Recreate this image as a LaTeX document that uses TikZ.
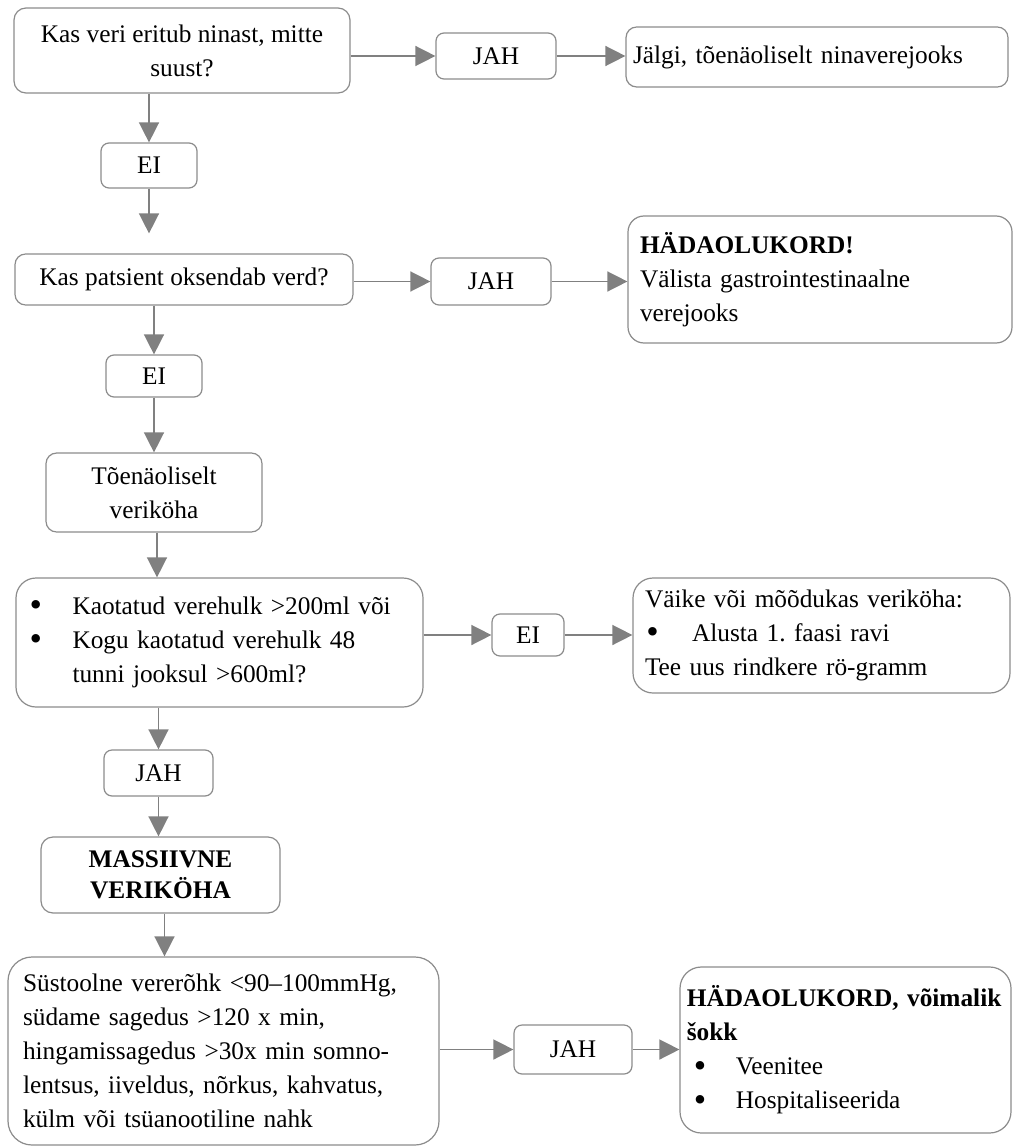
\documentclass[tikz,border=0pt]{standalone}
\usepackage{graphicx}
\usepackage{fontspec}
\setmainfont{Liberation Serif}
\usetikzlibrary{arrows.meta,calc}
\definecolor{edgegray}{HTML}{8C8C8C}
\definecolor{arrowgray}{HTML}{808080}
\newcommand\mybul{\raisebox{-0.2ex}{\scalebox{1.4}{\textbullet}}}
\tikzset{
  basebox/.style={draw=edgegray, line width=0.9pt, fill=white, inner sep=0pt,
    font=\fontsize{19}{25.5}\selectfont\frenchspacing, align=center, rounded corners=6pt},
  arr/.style={draw=arrowgray, line width=1.1pt, -{Triangle[length=15pt,width=15pt]}},
}
\begin{document}
\begin{tikzpicture}[x=0.75pt,y=-0.75pt]
\useasboundingbox (0,0) rectangle (1013,1148);

% row 1
\node[basebox, rounded corners=9pt, minimum width=252pt, minimum height=63.75pt] (box1) at (182,50.5)
  {Kas veri eritub ninast, mitte\\suust?};
\node[basebox, minimum width=90pt, minimum height=34.5pt] (jah1) at (496,56) {JAH};
\node[basebox, rounded corners=8pt, minimum width=286.5pt, minimum height=45pt, text width=276pt, align=left] (jalgi) at (817,57)
  {Jälgi, tõenäoliselt ninaverejooks};
\node[basebox, minimum width=72pt, minimum height=33.75pt] (ei1) at (149,165.5) {EI};

% row 2
\node[basebox, rounded corners=8pt, minimum width=253.5pt, minimum height=38.25pt] (box2) at (184,279.5)
  {Kas patsient oksendab verd?};
\node[basebox, minimum width=90pt, minimum height=35.25pt] (jah2) at (491,281.5) {JAH};
\node[basebox, rounded corners=12pt, minimum width=288pt, minimum height=95.25pt, text width=270pt, align=left] (hada1) at (820,279.5)
  {\textbf{HÄDAOLUKORD!}\\Välista gastrointestinaalne\\verejooks};
\node[basebox, minimum width=72pt, minimum height=31.5pt] (ei2) at (154,376) {EI};
\node[basebox, rounded corners=8pt, minimum width=162pt, minimum height=59.25pt] (toen) at (154,492.5)
  {Tõenäoliselt\\veriköha};

% row 3
\node[basebox, rounded corners=15pt, minimum width=305.25pt, minimum height=96.75pt, text width=285pt, align=left] (box3) at (219.5,642.5)
  {\makebox[32.25pt][l]{\mybul}Kaotatud verehulk >200ml või\\
   \makebox[32.25pt][l]{\mybul}Kogu kaotatud verehulk 48\\
   \hspace*{32.25pt}tunni jooksul >600ml?};
\node[basebox, minimum width=54pt, minimum height=31.5pt] (ei3) at (528,635) {EI};
\node[basebox, rounded corners=15pt, minimum width=282.75pt, minimum height=86.25pt, text width=264.75pt, align=left] (vaike) at (821.5,635.5)
  {Väike või mõõdukas veriköha:\\
   \makebox[35.25pt][l]{\hspace*{1pt}\mybul}Alusta 1. faasi ravi\\
   Tee uus rindkere rö-gramm};
\node[basebox, minimum width=81.75pt, minimum height=34.5pt] (jah3) at (158.5,773) {JAH};
\node[basebox, rounded corners=9pt, minimum width=179.25pt, minimum height=57pt,
  font=\fontsize{19}{23}\selectfont\bfseries] (mass) at (160.5,875) {MASSIIVNE\\VERIKÖHA};

% row 4
\node[basebox, rounded corners=18pt, minimum width=323.25pt, minimum height=141pt, text width=300.75pt, align=left] (big) at (223.5,1051)
  {Süstoolne vererõhk <90–100mmHg,\\
   südame sagedus >120 x min,\\
   hingamissagedus >30x min somno-\\
   lentsus, iiveldus, nõrkus, kahvatus,\\
   külm või tsüanootiline nahk};
\node[basebox, minimum width=88.5pt, minimum height=36.75pt] (jah4) at (573,1049.5) {JAH};
\node[basebox, rounded corners=16pt, minimum width=248.25pt, minimum height=124.5pt, text width=238pt, align=left] (hada2) at (845.5,1050)
  {\textbf{HÄDAOLUKORD, võimalik}\\
   \textbf{šokk}\\
   \hspace*{5.25pt}\makebox[31.5pt][l]{\mybul}Veenitee\\
   \hspace*{5.25pt}\makebox[31.5pt][l]{\mybul}Hospitaliseerida};

% connectors
\draw[arr] (box1.east |- jah1.west) -- (jah1.west);
\draw[arr] (jah1.east) -- (jah1.east -| jalgi.west);
\draw[arr] (ei1.north |- box1.south) -- (ei1.north);
\draw[arr] (ei1.south) -- ($(ei1.south |- box2.north)+(0,-20)$);

\draw[arr] (box2.east |- jah2.west) -- (jah2.west);
\draw[arr] (jah2.east) -- (jah2.east -| hada1.west);
\draw[arr] (ei2.north |- box2.south) -- (ei2.north);
\draw[arr] (ei2.south) -- (ei2.south |- toen.north);
\draw[arr] ($(toen.south)+(3,0)$) -- ($(toen.south |- box3.north)+(3,0)$);

\draw[arr] (box3.east |- ei3.west) -- (ei3.west);
\draw[arr] (ei3.east) -- (ei3.east -| vaike.west);
\draw[arr] (jah3.north |- box3.south) -- (jah3.north);
\draw[arr] (jah3.south) -- (jah3.south |- mass.north);
\draw[arr] ($(mass.south)+(4,0)$) -- ($(mass.south |- big.north)+(4,0)$);

\draw[arr] (big.east |- jah4.west) -- (jah4.west);
\draw[arr] (jah4.east) -- (jah4.east -| hada2.west);
\end{tikzpicture}
\end{document}
